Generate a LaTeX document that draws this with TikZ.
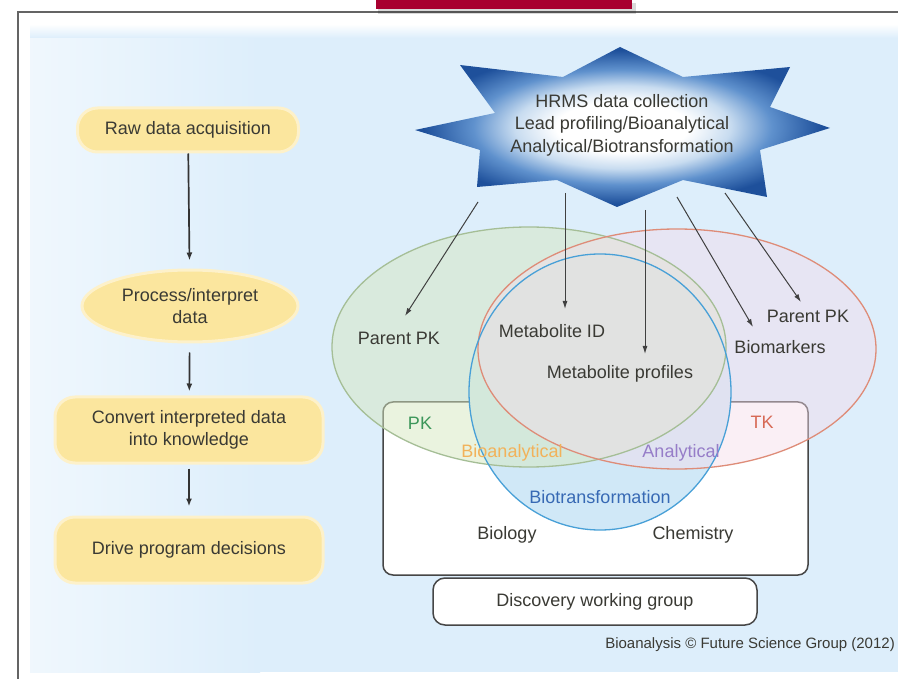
\documentclass[tikz,border=0pt]{standalone}
\usepackage{fontspec}
\setmainfont{Liberation Sans}
\usetikzlibrary{shapes.geometric,arrows.meta,calc}
\definecolor{bgblue}{RGB}{221,238,251}
\definecolor{boxyellow}{RGB}{251,230,158}
\definecolor{txt}{RGB}{58,58,52}
\definecolor{stardark}{RGB}{30,80,155}
\definecolor{starmid}{RGB}{95,145,205}
\definecolor{starlight}{RGB}{200,220,240}
\definecolor{gfill}{RGB}{214,232,192}
\definecolor{gline}{RGB}{165,190,150}
\definecolor{rfill}{RGB}{244,220,234}
\definecolor{rline}{RGB}{222,140,120}
\definecolor{bfill}{RGB}{208,232,247}
\definecolor{bline}{RGB}{72,160,215}
\definecolor{pkgreen}{RGB}{60,150,90}
\definecolor{tkred}{RGB}{215,105,85}
\definecolor{bioorange}{RGB}{242,178,90}
\definecolor{anapurple}{RGB}{150,125,200}
\definecolor{biotblue}{RGB}{55,105,180}
\definecolor{framegray}{RGB}{100,100,100}
\definecolor{boxgray}{RGB}{70,70,70}
\definecolor{barred}{RGB}{168,0,48}
\pgfdeclareradialshading{starshade}{\pgfpoint{0bp}{0bp}}{color(0bp)=(white); color(8bp)=(white); color(13bp)=(starlight); color(18bp)=(starmid); color(24bp)=(stardark); color(50bp)=(stardark)}
\begin{document}
\begin{tikzpicture}[x=1pt,y=-1pt,
  flowbox/.style={fill=boxyellow, draw=boxyellow!55, line width=3pt, rounded corners=20pt,
    text=txt, font=\fontsize{18}{22}\selectfont, align=center, inner sep=0pt},
  venntxt/.style={text=txt, font=\fontsize{18}{22}\selectfont, inner sep=1pt},
  arr/.style={-{Latex[length=8pt,width=6pt]}, draw=black!80, line width=1.7pt},
  stararr/.style={-{Latex[length=8pt,width=5pt]}, draw=black!75, line width=1pt},
  whitebox/.style={draw=boxgray, fill=white, line width=1.5pt}
]
\useasboundingbox (0,0) rectangle (898,679);
% background
\fill[white] (0,0) rectangle (898,679);
\fill[bgblue] (30,24) rectangle (898,672);
\shade[left color=white!55!bgblue, right color=bgblue] (30,24) rectangle (260,672);
\shade[top color=white, bottom color=bgblue] (30,24) rectangle (898,38);
\draw[framegray, line width=1.6pt] (18,679) -- (18,12) -- (898,12);
\fill[black, opacity=0.15] (378,3) rectangle (636,14);
\fill[barred] (376,0) rectangle (632,9);

% left flow
\node[flowbox, minimum width=221pt, minimum height=44pt] (raw) at (188,130) {Raw data acquisition};
\node[flowbox, ellipse, sharp corners, minimum width=216pt, minimum height=72pt] (proc) at (190,306) {Process/interpret\\data};
\node[flowbox, minimum width=268pt, minimum height=66pt] (conv) at (189,430) {Convert interpreted data\\into knowledge};
\node[flowbox, minimum width=268pt, minimum height=66pt] (drive) at (189,550) {Drive program decisions};
\draw[arr, shorten >=8pt] (raw) -- (proc);
\draw[arr, shorten <=9pt, shorten >=4pt] (proc) -- (conv);
\draw[arr, shorten <=4pt, shorten >=9pt] (conv) -- (drive);

% group rectangle
\node[whitebox, rounded corners=10pt, minimum width=425pt, minimum height=173pt] (grp) at (595.5,488.5) {};

% venn
\coordinate (gc) at (529,347);
\coordinate (rc) at (677,349);
\coordinate (bc) at (600,392);
\fill[bfill] (bc) ellipse [x radius=131pt, y radius=138pt];
\fill[gfill, opacity=0.5] (gc) ellipse [x radius=197pt, y radius=120pt];
\fill[rfill, opacity=0.45] (rc) ellipse [x radius=199pt, y radius=120pt];
\draw[gline, line width=1.3pt] (gc) ellipse [x radius=197pt, y radius=120pt];
\draw[rline, line width=1.3pt] (rc) ellipse [x radius=199pt, y radius=120pt];
\draw[bline, line width=1.3pt] (bc) ellipse [x radius=131pt, y radius=138pt];

% discovery working group
\node[whitebox, rounded corners=12pt, minimum width=324pt, minimum height=47pt, venntxt] (dwg) at (595,601.5) {Discovery working group};

% star
\shade[shading=starshade] (620,47) -- (683,77) -- (790,67) -- (770,107) -- (830,128) -- (760,150)
  -- (767,197) -- (683,180) -- (617,207) -- (557,180) -- (477,187) -- (480,150) -- (415,130)
  -- (495,113) -- (460,65) -- (563,77) -- cycle;
\node[text=txt, font=\fontsize{18}{22.5}\selectfont, align=center, inner sep=0pt] (star) at (622,125)
  {HRMS data collection\\Lead profiling/Bioanalytical\\Analytical/Biotransformation};

% labels
\node[venntxt] (ppkl) at (399,338) {Parent PK};
\node[venntxt] (metid) at (552,331) {Metabolite ID};
\node[venntxt] (metprof) at (620,374) {Metabolite profiles};
\node[venntxt] (ppkr) at (808,316) {Parent PK};
\node[venntxt] (biom) at (780,347) {Biomarkers};
\node[venntxt, text=pkgreen] (pk) at (420,423) {PK};
\node[venntxt, text=tkred] (tk) at (762,422) {TK};
\node[venntxt, text=bioorange] (bioan) at (512,453) {Bioanalytical};
\node[venntxt, text=anapurple] (anal) at (681,453) {Analytical};
\node[venntxt, text=biotblue] (biot) at (600,497) {Biotransformation};
\node[venntxt] (biol) at (507,535) {Biology};
\node[venntxt] (chem) at (693,535) {Chemistry};

% star arrows
\coordinate (s1) at (478,202); \coordinate (t1) at (405,316);
\coordinate (s2) at (565,193); \coordinate (t2) at (565,309);
\coordinate (s3) at (645,210); \coordinate (t3) at (645,354);
\coordinate (s4) at (677,197); \coordinate (t4) at (753,327);
\coordinate (s5) at (725,193); \coordinate (t5) at (801,302);
\draw[stararr] (s1) -- (t1);
\draw[stararr] (s2) -- (t2);
\draw[stararr] (s3) -- (t3);
\draw[stararr] (s4) -- (t4);
\draw[stararr] (s5) -- (t5);

% credit
\node[anchor=east, text=txt, font=\fontsize{15}{18}\selectfont, inner sep=0pt] (credit) at (895,645)
  {Bioanalysis © Future Science Group (2012)};
\end{tikzpicture}
\end{document}
